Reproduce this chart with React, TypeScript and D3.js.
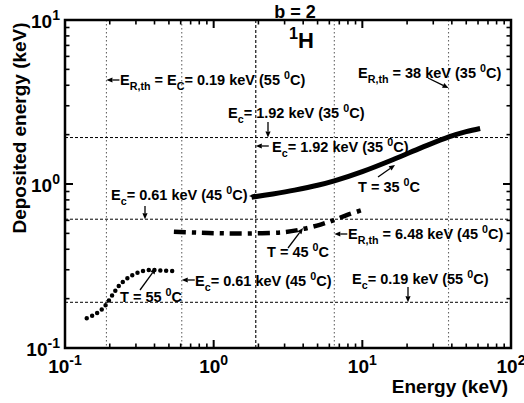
import React from 'react';
import * as d3 from 'd3';

const W = 524;
const H = 403;
const M = { left: 65, right: 511, top: 20, bottom: 348 };

// deposited energy vs energy, one curve per temperature
const e35 = [1.8, 2.5, 3.5, 5, 6.48, 10, 16.9, 25, 38.6, 50, 62];
const d35 = [0.83, 0.87, 0.918, 0.982, 1.045, 1.19, 1.435, 1.665, 1.945, 2.085, 2.18];
const e45 = [0.54, 0.8, 1.17, 1.85, 2.97, 4.05, 5.24, 6.45, 8.0, 10.3];
const d45 = [0.512, 0.505, 0.5, 0.5, 0.508, 0.533, 0.566, 0.603, 0.65, 0.7];
const e55 = [0.14, 0.16, 0.177, 0.19, 0.21, 0.235, 0.272, 0.312, 0.368, 0.437, 0.56];
const d55 = [0.152, 0.161, 0.172, 0.185, 0.2125, 0.244, 0.272, 0.289, 0.299, 0.297, 0.294];

// reference lines (keV)
const vLines = [0.19, 0.61, 1.92, 6.48, 38];
const hLines = [0.19, 0.61, 1.92];

const xExp = [-1, 0, 1, 2];
const yExp = [-1, 0, 1];

type Part = [string, 'n' | 'sub' | 'sup'];

const x = d3.scaleLog().domain([0.1, 100]).range([M.left, M.right]);
const y = d3.scaleLog().domain([0.1, 10]).range([M.bottom, M.top]);

function Rich({ px, py, parts, size = 14.5, anchor = 'start' }: { px: number; py: number; parts: Part[]; size?: number; anchor?: string }) {
  const small = size * 0.74;
  let level = 0;
  return (
    <text x={px} y={py} fontSize={size} fontWeight="bold" textAnchor={anchor} style={{ whiteSpace: 'pre' }}>
      {parts.map(([t, k], i) => {
        const target = k === 'sub' ? size * 0.33 : k === 'sup' ? -size * 0.42 : 0;
        const dy = target - level;
        level = target;
        return (
          <tspan key={i} dy={dy} fontSize={k === 'n' ? size : small}>
            {t}
          </tspan>
        );
      })}
    </text>
  );
}

function Arrow({ x1, y1, x2, y2 }: { x1: number; y1: number; x2: number; y2: number }) {
  const a = Math.atan2(y2 - y1, x2 - x1);
  const L = 6;
  const w = 2.6;
  const bx = x2 - L * Math.cos(a);
  const by = y2 - L * Math.sin(a);
  const pts = [
    [x2, y2],
    [bx + w * Math.sin(a), by - w * Math.cos(a)],
    [bx - w * Math.sin(a), by + w * Math.cos(a)],
  ];
  return (
    <g>
      <line x1={x1} y1={y1} x2={bx} y2={by} stroke="#000" strokeWidth={1.3} />
      <polygon points={pts.map(p => p.join(',')).join(' ')} fill="#000" />
    </g>
  );
}

const deg = (t: string, tail = 'C)'): Part[] => [[t, 'n'], ['0', 'sup'], [tail, 'n']];

export default function App() {
  const line = d3
    .line<[number, number]>()
    .x(d => x(d[0]))
    .y(d => y(d[1]))
    .curve(d3.curveCatmullRom);

  const s35 = e35.map((e, i) => [e, d35[i]] as [number, number]);
  const s45 = e45.map((e, i) => [e, d45[i]] as [number, number]);
  const s55 = e55.map((e, i) => [e, d55[i]] as [number, number]);

  const xMinor: number[] = [];
  xExp.slice(0, -1).forEach(k => d3.range(2, 10).forEach(m => xMinor.push(m * 10 ** k)));
  const yMinor: number[] = [];
  yExp.slice(0, -1).forEach(k => d3.range(2, 10).forEach(m => yMinor.push(m * 10 ** k)));

  const font = '"Liberation Sans", Arial, sans-serif';

  return (
    <svg width={W} height={H} style={{ position: 'absolute', left: 0, top: 0, background: '#fff' }} fontFamily={font}>
      {/* reference lines */}
      {vLines.map(v => (
        <line
          key={'v' + v}
          x1={x(v)}
          x2={x(v)}
          y1={M.top}
          y2={M.bottom}
          stroke={v === 1.92 ? '#000' : '#666'}
          strokeWidth={1.1}
          strokeDasharray={v === 1.92 ? '3 2' : '1.5 2.5'}
        />
      ))}
      {hLines.map(v => (
        <line key={'h' + v} x1={M.left} x2={M.right} y1={y(v)} y2={y(v)} stroke="#000" strokeWidth={1} strokeDasharray="3 2" />
      ))}

      {/* curves */}
      <path d={line(s35) || ''} fill="none" stroke="#000" strokeWidth={5} />
      <path d={line(s45) || ''} fill="none" stroke="#000" strokeWidth={4.5} strokeDasharray="12 6 4 6" />
      <path d={line(s55) || ''} fill="none" stroke="#000" strokeWidth={4.5} strokeLinecap="round" strokeDasharray="0 5.8" />

      {/* ticks */}
      {xExp.map(k => (
        <g key={'xt' + k}>
          <line x1={x(10 ** k)} x2={x(10 ** k)} y1={M.bottom} y2={M.bottom - 8} stroke="#000" strokeWidth={2} />
          <line x1={x(10 ** k)} x2={x(10 ** k)} y1={M.top} y2={M.top + 8} stroke="#000" strokeWidth={2} />
        </g>
      ))}
      {xMinor.map(v => (
        <g key={'xm' + v}>
          <line x1={x(v)} x2={x(v)} y1={M.bottom} y2={M.bottom - 4.5} stroke="#000" strokeWidth={1.6} />
          <line x1={x(v)} x2={x(v)} y1={M.top} y2={M.top + 4.5} stroke="#000" strokeWidth={1.6} />
        </g>
      ))}
      {yExp.map(k => (
        <g key={'yt' + k}>
          <line x1={M.left} x2={M.left + 8} y1={y(10 ** k)} y2={y(10 ** k)} stroke="#000" strokeWidth={2} />
          <line x1={M.right} x2={M.right - 8} y1={y(10 ** k)} y2={y(10 ** k)} stroke="#000" strokeWidth={2} />
        </g>
      ))}
      {yMinor.map(v => (
        <g key={'ym' + v}>
          <line x1={M.left} x2={M.left + 4.5} y1={y(v)} y2={y(v)} stroke="#000" strokeWidth={1.6} />
          <line x1={M.right} x2={M.right - 4.5} y1={y(v)} y2={y(v)} stroke="#000" strokeWidth={1.6} />
        </g>
      ))}

      {/* frame */}
      <rect x={M.left} y={M.top} width={M.right - M.left} height={M.bottom - M.top} fill="none" stroke="#000" strokeWidth={2.5} />

      {/* tick labels */}
      {xExp.map(k => (
        <Rich key={'xl' + k} px={x(10 ** k)} py={M.bottom + 25} size={19} anchor="middle" parts={[['10', 'n'], [String(k), 'sup']]} />
      ))}
      {yExp.map(k => (
        <Rich key={'yl' + k} px={M.left - 5} py={y(10 ** k) + 8} size={19} anchor="end" parts={[['10', 'n'], [String(k), 'sup']]} />
      ))}

      {/* axis titles */}
      <text x={508} y={393} fontSize={19} fontWeight="bold" textAnchor="end">
        Energy (keV)
      </text>
      <text transform="translate(26,128) rotate(-90)" fontSize={19} fontWeight="bold" textAnchor="middle">
        Deposited energy (keV)
      </text>
      <text x={295} y={18} fontSize={18} fontWeight="bold" textAnchor="middle">
        b = 2
      </text>
      <Rich px={289} py={48} size={22} parts={[['1', 'sup'], ['H', 'n']]} />

      {/* annotations */}
      <Arrow x1={x(0.19) + 13} y1={80} x2={x(0.19)} y2={80} />
      <Rich px={120} py={85} parts={[['E', 'n'], ['R,th', 'sub'], [' = E', 'n'], ['C', 'sub'], ...deg('= 0.19 keV (55 ')]} />

      <Rich px={228} py={118} parts={[['E', 'n'], ['c', 'sub'], ...deg('= 1.92 keV (35 ')]} />
      <Arrow x1={268} y1={122} x2={268} y2={y(1.92)} />

      <Arrow x1={x(1.92) + 13} y1={146} x2={x(1.92)} y2={146} />
      <Rich px={272} py={152} parts={[['E', 'n'], ['c', 'sub'], ...deg('= 1.92 keV (35 ')]} />

      <Rich px={358} py={192} parts={deg('T = 35 ', 'C')} />
      <Arrow x1={378} y1={177} x2={395} y2={165} />

      <Rich px={358} py={78} parts={[['E', 'n'], ['R,th', 'sub'], ...deg(' = 38 keV (35 ')]} />
      <Arrow x1={428} y1={78} x2={x(38)} y2={88} />

      <Rich px={111} py={200} parts={[['E', 'n'], ['c', 'sub'], ...deg('= 0.61 keV (45 ')]} />
      <Arrow x1={257} y1={196} x2={249} y2={196} />
      <Arrow x1={145} y1={206} x2={145} y2={y(0.61)} />

      <Rich px={267} py={257} parts={deg('T = 45 ', 'C')} />
      <Arrow x1={288} y1={248} x2={303} y2={228} />

      <Arrow x1={x(6.48) + 13} y1={234} x2={x(6.48)} y2={234} />
      <Rich px={348} py={239} parts={[['E', 'n'], ['R,th', 'sub'], ...deg(' = 6.48 keV (45 ')]} />

      <Rich px={352} py={284} parts={[['E', 'n'], ['c', 'sub'], ...deg('= 0.19 keV (55 ')]} />
      <Arrow x1={408} y1={287} x2={408} y2={y(0.19)} />

      <Arrow x1={x(0.61) + 13} y1={280} x2={x(0.61)} y2={280} />
      <Rich px={195} py={286} parts={[['E', 'n'], ['c', 'sub'], ...deg('= 0.61 keV (45 ')]} />

      <Rich px={120} py={302} parts={deg('T = 55 ', 'C')} />
      <Arrow x1={140} y1={290} x2={156} y2={268} />
    </svg>
  );
}
